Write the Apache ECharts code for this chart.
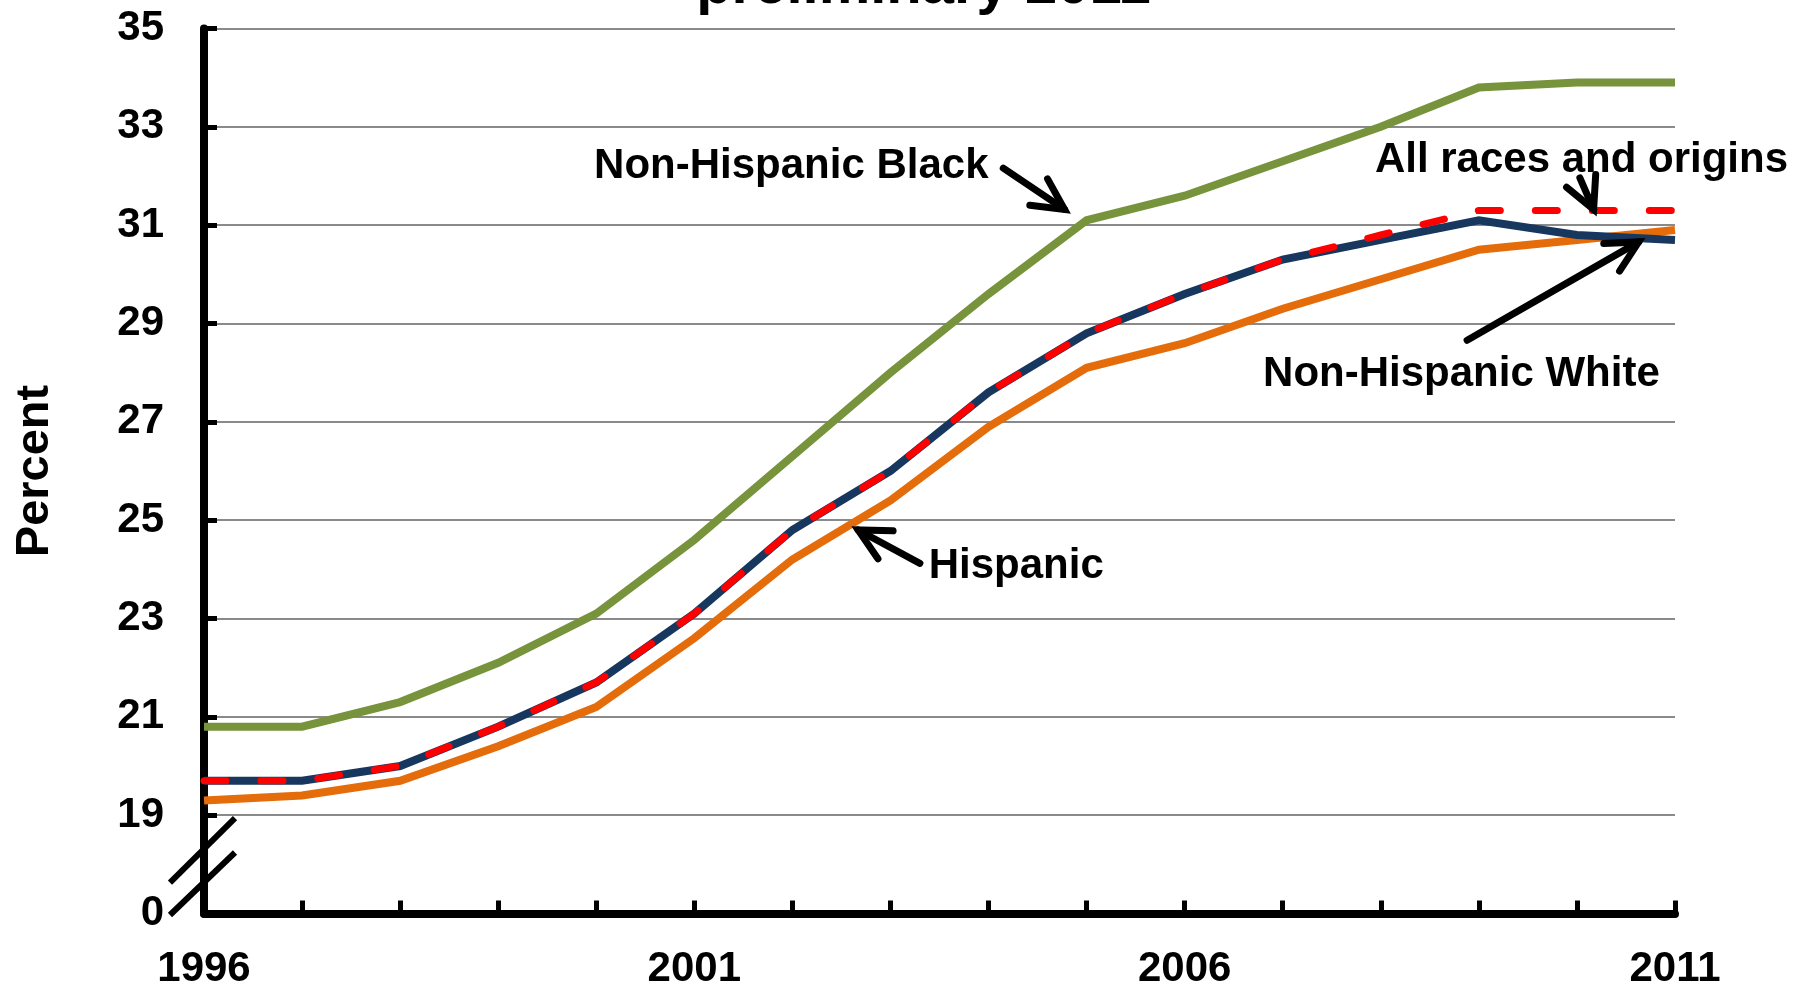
<!DOCTYPE html>
<html>
<head>
<meta charset="utf-8">
<script src="https://cdn.jsdelivr.net/npm/echarts@6/dist/echarts.min.js"></script>
<style>
  html, body { margin: 0; padding: 0; background: #fff; }
  #chart { width: 1798px; height: 987px; }
</style>
</head>
<body>
<div id="chart"></div>
<script>
// Cesarean rates by race and Hispanic origin, 1996-2011
const years = ['1996','1997','1998','1999','2000','2001','2002','2003','2004','2005','2006','2007','2008','2009','2010','2011'];
const nonHispanicBlack = [20.8, 20.8, 21.3, 22.1, 23.1, 24.6, 26.3, 28.0, 29.6, 31.1, 31.6, 32.3, 33.0, 33.8, 33.9, 33.9];
const nonHispanicWhite = [19.7, 19.7, 20.0, 20.8, 21.7, 23.1, 24.8, 26.0, 27.6, 28.8, 29.6, 30.3, 30.7, 31.1, 30.8, 30.7];
const hispanic         = [19.3, 19.4, 19.7, 20.4, 21.2, 22.6, 24.2, 25.4, 26.9, 28.1, 28.6, 29.3, 29.9, 30.5, 30.7, 30.9];
const allRaces         = [19.7, 19.7, 20.0, 20.8, 21.7, 23.1, 24.8, 26.0, 27.6, 28.8, 29.6, 30.3, 30.8, 31.3, 31.3, 31.3];

// The value axis is broken: everything below BASE is cut away and the bottom tick reads 0.
const BASE = 17;
const yTickTop = 35;
const yTickStep = 2;
const xLabelYears = ['1996', '2001', '2006', '2011'];

const FONT = 'Liberation Sans, Arial, sans-serif';
const shift = arr => arr.map(v => +(v - BASE).toFixed(3));

const chart = echarts.init(document.getElementById('chart'));

const lineSeries = (name, data, color, extra) => Object.assign({
  name, type: 'line', data: shift(data), symbol: 'none', smooth: false,
  lineStyle: { color, width: 8, cap: 'butt', join: 'miter' },
  emphasis: { disabled: true }, silent: true
}, extra || {});

chart.setOption({
  animation: false,
  backgroundColor: '#ffffff',
  grid: { left: 204, right: 123, top: 28.5, bottom: 73.5, containLabel: false, outerBoundsMode: 'none' },
  xAxis: {
    type: 'category',
    data: years,
    boundaryGap: false,
    axisLine: { lineStyle: { color: '#000', width: 8 } },
    axisTick: { show: true, inside: true, length: 13, interval: 0, lineStyle: { color: '#000', width: 5 } },
    axisLabel: {
      interval: (i, v) => xLabelYears.indexOf(v) >= 0,
      margin: 35, color: '#000', fontSize: 42, fontWeight: 'bold', fontFamily: FONT
    },
    splitLine: { show: false }
  },
  yAxis: {
    type: 'value',
    min: 0, max: yTickTop - BASE, interval: yTickStep,
    name: 'Percent', nameLocation: 'middle', nameGap: 145,
    nameTextStyle: { color: '#000', fontSize: 47, fontWeight: 'bold', fontFamily: FONT },
    axisLine: { show: true, lineStyle: { color: '#000', width: 8 } },
    axisTick: { show: true, inside: true, length: 13, lineStyle: { color: '#000', width: 5 } },
    axisLabel: {
      margin: 40, color: '#000', fontSize: 42, fontWeight: 'bold', fontFamily: FONT,
      formatter: v => v === 0 ? '0' : String(v + BASE)
    },
    splitLine: { show: true, lineStyle: { color: '#8a8a8a', width: 2 } }
  },
  series: [
    lineSeries('Non-Hispanic Black', nonHispanicBlack, '#77933C', { z: 2 }),
    lineSeries('Hispanic', hispanic, '#E46C0A', { z: 3 }),
    lineSeries('Non-Hispanic White', nonHispanicWhite, '#17375E', { z: 4 }),
    lineSeries('All races and origins', allRaces, '#FF0000', {
      z: 5,
      lineStyle: { color: '#FF0000', width: 7, type: [22, 35], cap: 'round', join: 'round' }
    })
  ]
});

// Map (category position, real value) to pixels; fractional positions are allowed.
function toPx(pos, value) {
  const x0 = chart.convertToPixel({ xAxisIndex: 0 }, years[0]);
  const x1 = chart.convertToPixel({ xAxisIndex: 0 }, years[1]);
  const y = chart.convertToPixel({ yAxisIndex: 0 }, value - BASE);
  return [x0 + pos * (x1 - x0), y];
}

function arrow(from, to) {
  const a = toPx(from[0], from[1]);
  const b = toPx(to[0], to[1]);
  const ang = Math.atan2(a[1] - b[1], a[0] - b[0]);
  const len = 35, spread = 27 * Math.PI / 180;
  const h1 = [b[0] + len * Math.cos(ang + spread), b[1] + len * Math.sin(ang + spread)];
  const h2 = [b[0] + len * Math.cos(ang - spread), b[1] + len * Math.sin(ang - spread)];
  const style = { stroke: '#000', lineWidth: 7, fill: null, lineCap: 'round', lineJoin: 'miter' };
  return [
    { type: 'line', shape: { x1: a[0], y1: a[1], x2: b[0], y2: b[1] }, style, z: 20, silent: true },
    { type: 'polyline', shape: { points: [h1, b, h2] }, style, z: 20, silent: true }
  ];
}

function label(text, pos, value, align) {
  const p = toPx(pos, value);
  return {
    type: 'text', x: p[0], y: p[1], z: 21, silent: true,
    style: { text, fill: '#000', fontSize: 42, fontWeight: 'bold', fontFamily: FONT, align, verticalAlign: 'middle' }
  };
}

function breakMark(from, to) {
  const a = toPx(from[0], from[1]);
  const b = toPx(to[0], to[1]);
  return { type: 'line', shape: { x1: a[0], y1: a[1], x2: b[0], y2: b[1] },
           style: { stroke: '#000', lineWidth: 6, lineCap: 'butt' }, z: 20, silent: true };
}

const titleX = (toPx(0, BASE)[0] + toPx(years.length - 1, BASE)[0]) / 2 - 16;

const graphics = [
  { type: 'text', x: titleX, y: -13, z: 30, silent: true,
    style: { text: 'preliminary 2011', fill: '#000', fontSize: 58, fontWeight: 'bold', fontFamily: FONT,
             align: 'center', verticalAlign: 'middle' } },
  breakMark([-0.347, 17.63], [0.316, 18.94]),
  breakMark([-0.347, 16.97], [0.316, 18.24]),
  label('Non-Hispanic Black', 8.0, 32.19, 'right'),
  label('All races and origins', 11.94, 32.32, 'left'),
  label('Non-Hispanic White', 10.8, 27.96, 'left'),
  label('Hispanic', 7.39, 24.05, 'left'),
  ...arrow([8.15, 32.16], [8.775, 31.32]),
  ...arrow([14.03, 31.96], [14.17, 31.32]),
  ...arrow([12.88, 28.66], [14.63, 30.66]),
  ...arrow([7.30, 24.12], [6.67, 24.8])
];

chart.setOption({ graphic: graphics });
</script>
</body>
</html>
